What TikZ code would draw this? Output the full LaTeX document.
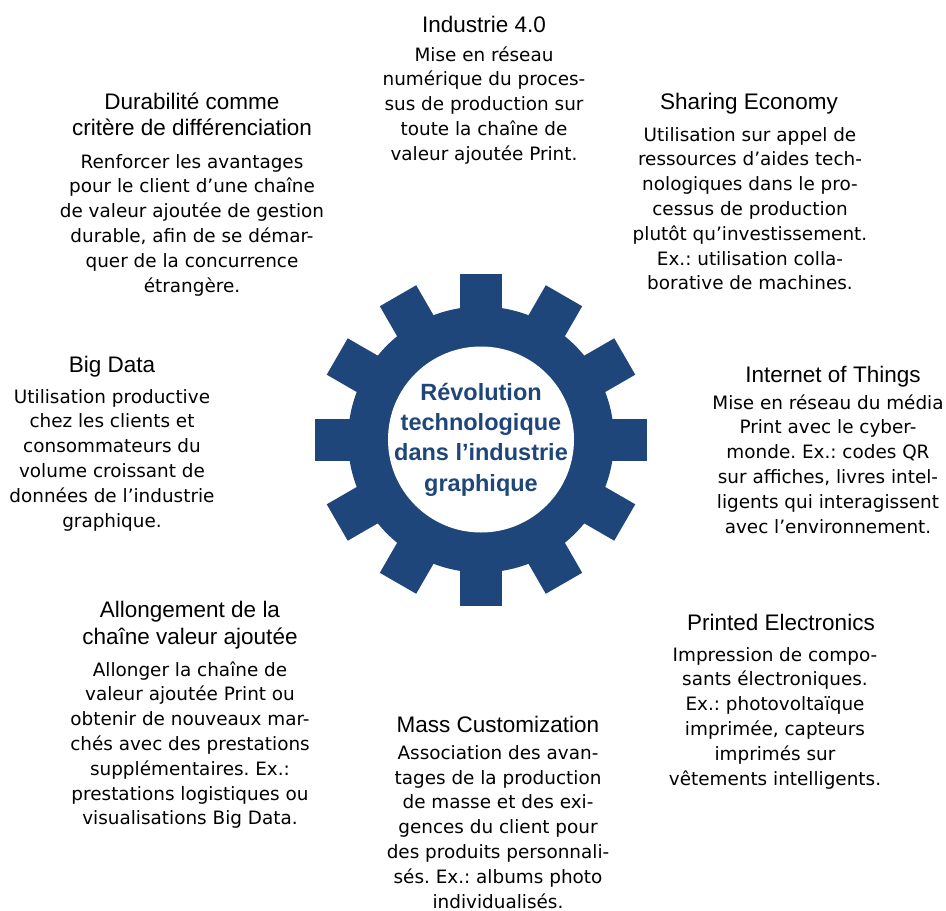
\documentclass[tikz,border=0pt]{standalone}
\usepackage{fontspec}
\setmainfont{DejaVu Sans}
\newfontfamily\ttlfont{Liberation Sans}
\newfontfamily\gearfont{Liberation Sans}
\definecolor{gearblue}{RGB}{31,70,122}
\frenchspacing
\begin{document}
\begin{tikzpicture}[x=1pt,y=-1pt,
  ttl/.style={anchor=base,align=center,inner sep=0pt,font=\ttlfont\fontsize{22.5}{26}\selectfont},
  bodytext/.style={anchor=base,align=center,inner sep=0pt,font=\frenchspacing\fontsize{18.4}{24.8}\selectfont},
  gtext/.style={anchor=base,align=center,inner sep=0pt,text=gearblue,font=\gearfont\bfseries\fontsize{23.5}{30.3}\selectfont},
  gearpart/.style={fill=gearblue}]
\useasboundingbox (0,0) rectangle (946,911);
\fill[white] (0,0) rectangle (946,911);
% gear
\coordinate (gc) at (481,439.5);
\fill[gearpart] (gc) circle[radius=133];
\foreach \a in {0,30,...,330}
  \fill[gearpart,shift={(481,439.5)},rotate=\a] (110,-21) rectangle (166,21);
\fill[white] (gc) circle[radius=93];
% (anchor=base sits on the last line's baseline)
\node[gtext] (core) at (481,491) {Révolution\\technologique\\dans l’industrie\\graphique};
% Industrie 4.0
\node[ttl] (t1) at (484,32.5) {Industrie 4.0};
\node[bodytext] (b1) at (484,160.2) {Mise en réseau\\numérique du proces-\\sus de production sur\\toute la chaîne de\\valeur ajoutée Print.};
% Sharing Economy
\node[ttl] (t2) at (749,109.5) {Sharing Economy};
\node[bodytext] (b2) at (750,289.8) {Utilisation sur appel de\\ressources d’aides tech-\\nologiques dans le pro-\\cessus de production\\plutôt qu’investissement.\\Ex.: utilisation colla-\\borative de machines.};
% Durabilite
\node[ttl] (t3) at (192,135.5) {Durabilité comme\\critère de différenciation};
\node[bodytext] (b3) at (192,292) {Renforcer les avantages\\pour le client d’une chaîne\\de valeur ajoutée de gestion\\durable, afin de se démar-\\quer de la concurrence\\étrangère.};
% Big Data
\node[ttl] (t4) at (112,372.5) {Big Data};
\node[bodytext] (b4) at (112,527) {Utilisation productive\\chez les clients et\\consommateurs du\\volume croissant de\\données de l’industrie\\graphique.};
% Internet of Things
\node[ttl] (t5) at (833,382.5) {Internet of Things};
\node[bodytext] (b5) at (828,533) {Mise en réseau du média\\Print avec le cyber-\\monde. Ex.: codes QR\\sur affiches, livres intel-\\ligents qui interagissent\\avec l’environnement.};
% Allongement
\node[ttl,font=\ttlfont\fontsize{22.5}{27}\selectfont] (t6) at (190,644.5) {Allongement de la\\chaîne valeur ajoutée};
\node[bodytext] (b6) at (190,824.8) {Allonger la chaîne de\\valeur ajoutée Print ou\\obtenir de nouveaux mar-\\chés avec des prestations\\supplémentaires. Ex.:\\prestations logistiques ou\\visualisations Big Data.};
% Mass Customization
\node[ttl] (t7) at (498,732.5) {Mass Customization};
\node[bodytext] (b7) at (498,908) {Association des avan-\\tages de la production\\de masse et des exi-\\gences du client pour\\des produits personnali-\\sés. Ex.: albums photo\\individualisés.};
% Printed Electronics
\node[ttl] (t8) at (781,630.5) {Printed Electronics};
\node[bodytext] (b8) at (775,785) {Impression de compo-\\sants électroniques.\\Ex.: photovoltaïque\\imprimée, capteurs\\imprimés sur\\vêtements intelligents.};
\end{tikzpicture}
\end{document}
